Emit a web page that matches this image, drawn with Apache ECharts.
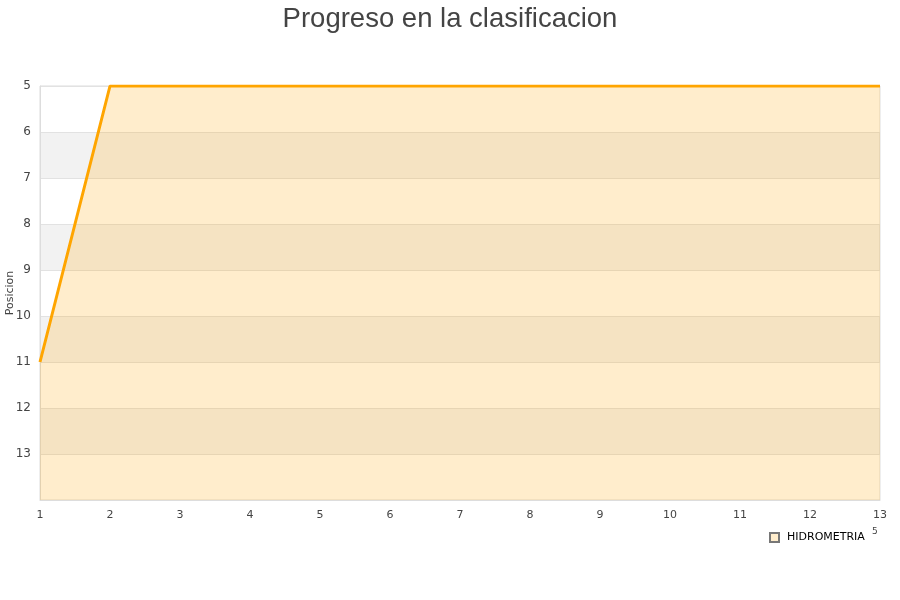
<!DOCTYPE html>
<html>
<head>
<meta charset="utf-8">
<script src="https://cdn.jsdelivr.net/npm/echarts@6/dist/echarts.min.js"></script>
<style>
  html, body { margin: 0; padding: 0; background: #fff; }
  #chart { width: 900px; height: 600px; }
</style>
</head>
<body>
<div id="chart"></div>
<script>
// Jornadas (eje X) y posición en la tabla de cada jornada
const jornadas = ['1', '2', '3', '4', '5', '6', '7', '8', '9', '10', '11', '12', '13'];
const posiciones = [11, 5, 5, 5, 5, 5, 5, 5, 5, 5, 5, 5, 5];
const equipo = 'HIDROMETRIA';
const titulo = 'Progreso en la clasificacion';

const chart = echarts.init(document.getElementById('chart'));

chart.setOption({
  animation: false,
  title: {
    text: titulo,
    left: 'center',
    top: 0,
    textStyle: { fontSize: 27.5, fontWeight: 'normal', color: '#444', fontFamily: 'Liberation Sans, Arial, sans-serif' }
  },
  legend: {
    data: [equipo],
    left: 769,
    top: 532,
    itemWidth: 9,
    itemHeight: 9,
    icon: 'rect',
    padding: 0,
    textStyle: { fontSize: 11, color: '#000', padding: [0, 0, 0, 3], fontFamily: 'DejaVu Sans, sans-serif' }
  },
  grid: {
    left: 40,
    right: 20,
    top: 86,
    bottom: 100,
    containLabel: false,
    outerBoundsMode: 'none',
    show: true,
    borderColor: '#ddd',
    borderWidth: 1,
    backgroundColor: 'transparent'
  },
  xAxis: {
    type: 'category',
    data: jornadas,
    boundaryGap: false,
    axisLine: { lineStyle: { color: '#ddd' } },
    axisTick: { show: false },
    axisLabel: { color: '#444', fontSize: 11, margin: 10, fontFamily: 'DejaVu Sans, sans-serif' },
    splitLine: { show: false }
  },
  yAxis: {
    type: 'value',
    inverse: true,
    min: 5,
    max: 14,
    interval: 1,
    name: 'Posicion',
    nameLocation: 'middle',
    nameGap: 24,
    nameMoveOverlap: false,
    nameRotate: 90,
    nameTextStyle: { color: '#444', fontSize: 11, fontFamily: 'DejaVu Sans, sans-serif' },
    axisLine: { show: true, lineStyle: { color: '#ddd' } },
    axisTick: { show: false },
    axisLabel: {
      color: '#444',
      fontSize: 12,
      margin: 9,
      fontFamily: 'DejaVu Sans, sans-serif',
      formatter: v => (v >= 14 ? '' : String(v))
    },
    splitLine: { show: true, lineStyle: { color: '#e2e2e2' } },
    splitArea: { show: true, areaStyle: { color: ['rgba(255,255,255,0)', 'rgba(0,0,0,0.05)'] } }
  },
  series: [{
    name: equipo,
    type: 'line',
    data: posiciones,
    symbol: 'none',
    lineStyle: { color: '#FFA500', width: 3 },
    itemStyle: { color: '#FFEDCC', borderColor: '#777', borderWidth: 1 },
    areaStyle: { color: 'rgba(255,165,0,0.2)', opacity: 1, origin: 'end' }
  }],
  graphic: [{
    type: 'text',
    left: 872,
    top: 527,
    style: { text: '5', fontSize: 9, fill: '#444', fontFamily: 'DejaVu Sans, sans-serif' }
  }]
});
</script>
</body>
</html>
